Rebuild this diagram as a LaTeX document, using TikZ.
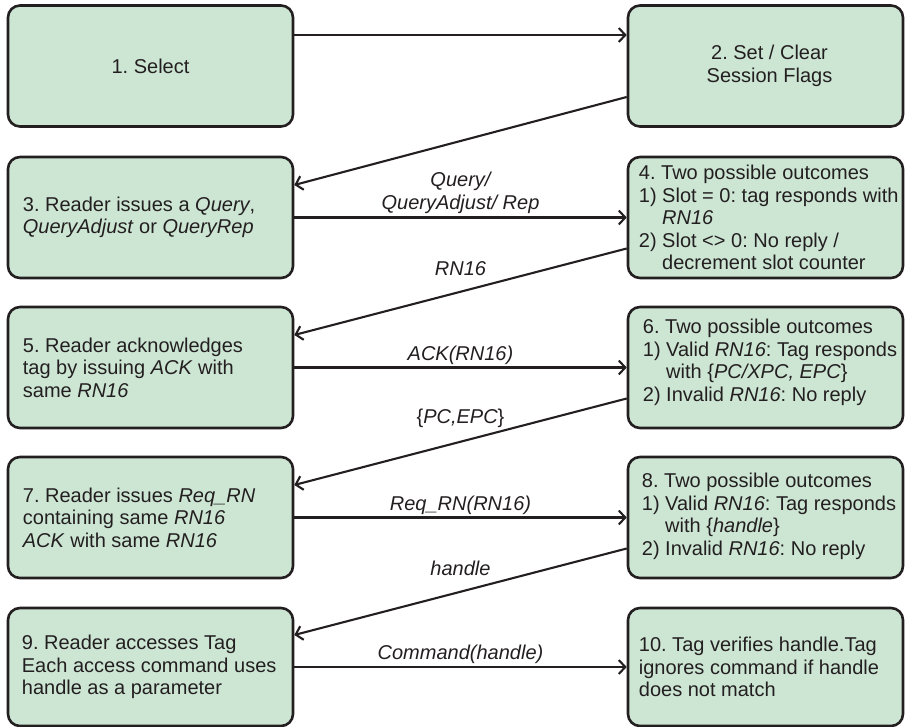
\documentclass[tikz,border=0pt]{standalone}
\usepackage{fontspec}
\setmainfont{Liberation Sans}
\usetikzlibrary{arrows.meta}
\definecolor{boxfill}{RGB}{205,230,212}
\definecolor{ink}{RGB}{35,31,32}
\frenchspacing
\begin{document}
\begin{tikzpicture}[x=1pt,y=-1pt,
 box/.style={draw=ink, fill=boxfill, line width=2.6pt, rounded corners=12pt, minimum height=121pt, inner sep=0pt},
 lbox/.style={box, minimum width=285pt},
 rbox/.style={box, minimum width=275pt},
 txt/.style={anchor=west, align=left, inner sep=0pt, text=ink, font=\fontsize{20}{22.5}\selectfont},
 ctxt/.style={align=center, inner sep=0pt, text=ink, font=\fontsize{20}{22.5}\selectfont},
 lab/.style={text=ink, font=\fontsize{20}{22.5}\selectfont\itshape, align=center, inner sep=0pt},
 arr/.style={draw=ink, line width=2.1pt, -{Straight Barb[length=6.5pt,width=14pt,line width=2.1pt]}}
]
\useasboundingbox (0,0) rectangle (905,727);
% boxes
\node[lbox] (b1) at (150.5,66) {};
\node[rbox] (b2) at (765.5,66) {};
\node[lbox] (b3) at (150.5,217.5) {};
\node[rbox] (b4) at (765.5,217.5) {};
\node[lbox] (b5) at (150.5,367.5) {};
\node[rbox] (b6) at (765.5,367.5) {};
\node[lbox] (b7) at (150.5,517.5) {};
\node[rbox] (b8) at (765.5,517.5) {};
\node[lbox, minimum height=118pt] (b9) at (150.5,667) {};
\node[rbox, minimum height=118pt] (b10) at (765.5,667) {};
% texts
\node[ctxt] (t1) at (b1.center) {1. Select};
\node[ctxt] (t2) at ([xshift=4pt]b2.center) {2. Set / Clear\\Session Flags};
\node[txt] (t3) at ([xshift=16pt]b3.west) {3. Reader issues a \textit{Query},\\\textit{QueryAdjust} or \textit{QueryRep}};
\node[txt] (t4) at ([xshift=12pt]b4.west) {4. Two possible outcomes\\1) Slot = 0: tag responds with\\\hphantom{1)\ }\textit{RN16}\\2) Slot <> 0: No reply /\\\hphantom{2)\ }decrement slot counter};
\node[txt] (t5) at ([xshift=16pt]b5.west) {5. Reader acknowledges\\tag by issuing \textit{ACK} with\\same \textit{RN16}};
\node[txt] (t6) at ([xshift=16pt,yshift=5pt]b6.west) {6. Two possible outcomes\\1) Valid \textit{RN16}: Tag responds\\\hphantom{1)\ }with \{\textit{PC/XPC, EPC}\}\\2) Invalid \textit{RN16}: No reply};
\node[txt] (t7) at ([xshift=16pt]b7.west) {7. Reader issues \textit{Req\_RN}\\containing same \textit{RN16}\\\textit{ACK} with same \textit{RN16}};
\node[txt] (t8) at ([xshift=15pt,yshift=1pt]b8.west) {8. Two possible outcomes\\1) Valid \textit{RN16}: Tag responds\\\hphantom{1)\ }with \{\textit{handle}\}\\2) Invalid \textit{RN16}: No reply};
\node[txt] (t9) at ([xshift=15pt]b9.west) {9. Reader accesses Tag\\Each access command uses\\handle as a parameter};
\node[txt] (t10) at ([xshift=12pt]b10.west) {10. Tag verifies handle.Tag\\ignores command if handle\\does not match};
% arrows
\draw[arr] ([yshift=31pt]b1.east) -- ([yshift=31pt]b2.west);
\draw[arr] ([yshift=-31pt]b2.west) -- ([yshift=32.5pt]b3.east);
\draw[arr] (b3.east) -- node[lab, midway, yshift=24.5pt] (l3) {Query/\\QueryAdjust/ Rep} (b4.west);
\draw[arr] ([yshift=-31pt]b4.west) -- node[lab, midway, yshift=23.5pt] (l4) {RN16} ([yshift=32.5pt]b5.east);
\draw[arr] (b5.east) -- node[lab, midway, yshift=12.5pt] (l5) {ACK(RN16)} (b6.west);
\draw[arr] ([yshift=-31pt]b6.west) -- node[lab, midway, yshift=23.5pt] (l6) {\upshape\{\itshape PC,EPC\upshape\}} ([yshift=32.5pt]b7.east);
\draw[arr] (b7.east) -- node[lab, midway, yshift=12.5pt] (l7) {Req\_RN(RN16)} (b8.west);
\draw[arr] ([yshift=-31pt]b8.west) -- node[lab, midway, yshift=23.5pt] (l8) {handle} ([yshift=32pt]b9.east);
\draw[arr] (b9.east) -- node[lab, midway, yshift=13pt] (l9) {Command(handle)} (b10.west);
\end{tikzpicture}
\end{document}
